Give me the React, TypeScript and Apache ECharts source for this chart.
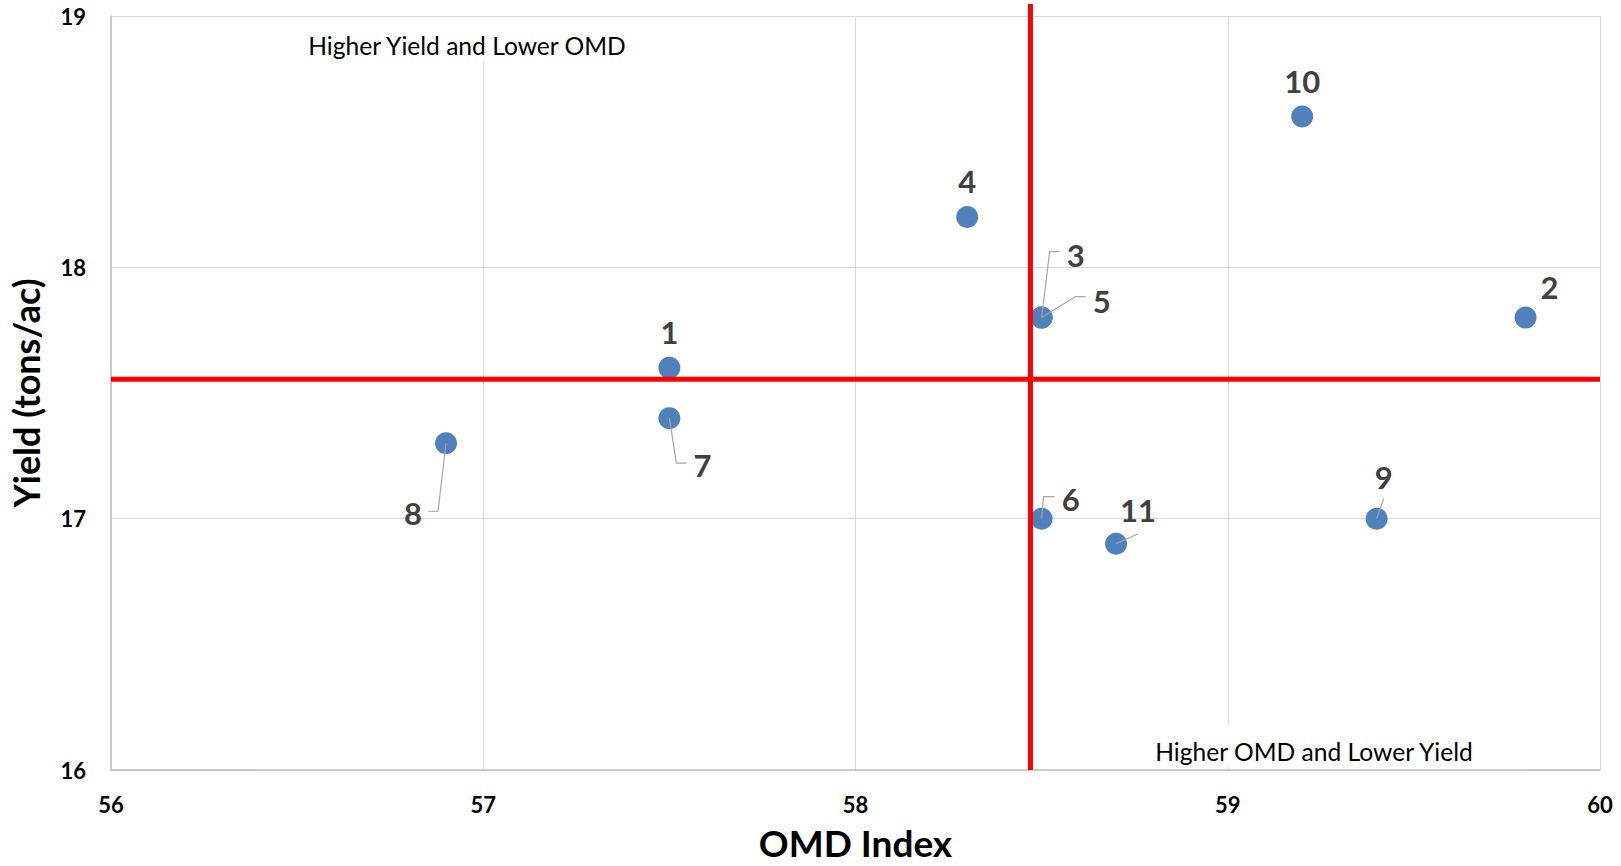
import React, { useEffect, useRef } from "react";
import * as echarts from "echarts";

// ---- Data ----
const POINT_LABELS = ["1", "2", "3", "4", "5", "6", "7", "8", "9", "10", "11"];
const OMD_INDEX = [57.5, 59.8, 58.5, 58.3, 58.5, 58.5, 57.5, 56.9, 59.4, 59.2, 58.7];
const YIELD = [17.6, 17.8, 17.8, 18.2, 17.8, 17.0, 17.4, 17.3, 17.0, 18.6, 16.9];
const OMD_REFERENCE = 58.47;
const YIELD_REFERENCE = 17.555;
const X_MIN = 56;
const X_MAX = 60;
const Y_MIN = 16;
const Y_MAX = 19;
const QUADRANT_NOTES = ["Higher Yield and Lower OMD", "Higher OMD and Lower Yield"];

// ---- Label layout (pixel offsets of each label from its point) ----
const LABEL_OFFSET: [number, number][] = [
  [0, -36], [24, -31], [34, -63], [0, -36], [60, -17], [29, -20],
  [33, 47], [-33, 70], [7, -42], [0, -36], [22, -34],
];
// leader line points (pixel offsets from point centre), null = none
const LEADER: ([number, number][] | null)[] = [
  null,
  null,
  [[0, 0], [8, -66], [18, -66]],
  null,
  [[0, 0], [34, -21], [44, -21]],
  [[0, 0], [2, -22], [13, -22]],
  [[0, 0], [7, 45], [17, 45]],
  [[0, 0], [-8, 68], [-18, 68]],
  [[0, 0], [7, -20]],
  null,
  [[0, 0], [22, -10]],
];

const FONT = "Lato, 'Open Sans', sans-serif";

export default function App() {
  const ref = useRef<HTMLDivElement>(null);

  useEffect(() => {
    document.body.style.margin = "0";
    if (!ref.current) return;
    const chart = echarts.init(ref.current, null, { renderer: "svg" });
    const points = OMD_INDEX.map((x, i) => [x, YIELD[i]]);

    const option: any = {
      animation: false,
      backgroundColor: "#ffffff",
      grid: { left: 111, right: 21, top: 16, bottom: 94 },
      xAxis: {
        type: "value",
        min: X_MIN,
        max: X_MAX,
        interval: 1,
        name: "OMD Index",
        nameLocation: "middle",
        nameGap: 54,
        nameTextStyle: { fontFamily: FONT, fontWeight: "bold", fontSize: 37, color: "#000" },
        axisLine: { show: true, lineStyle: { color: "#bfbfbf", width: 1.5 } },
        axisTick: { show: false },
        axisLabel: { fontFamily: FONT, fontWeight: "bold", fontSize: 22, color: "#000", margin: 23 },
        splitLine: { show: true, lineStyle: { color: "#d9d9d9", width: 1 } },
      },
      yAxis: {
        type: "value",
        min: Y_MIN,
        max: Y_MAX,
        interval: 1,
        name: "Yield (tons/ac)",
        nameLocation: "middle",
        nameGap: 67,
        nameTextStyle: { fontFamily: FONT, fontWeight: "bold", fontSize: 36, color: "#000" },
        axisLine: { show: true, lineStyle: { color: "#bfbfbf", width: 1.5 } },
        axisTick: { show: false },
        axisLabel: { fontFamily: FONT, fontWeight: "bold", fontSize: 22, color: "#000", margin: 25 },
        splitLine: { show: true, lineStyle: { color: "#d9d9d9", width: 1 } },
      },
      graphic: [
        {
          type: "text",
          z: 50,
          x: 467,
          y: 17,
          style: {
            text: QUADRANT_NOTES[0],
            font: `24.6px ${FONT}`,
            fill: "#000",
            align: "center",
            verticalAlign: "top",
            lineHeight: 28,
            backgroundColor: "#fff",
            padding: [14, 8, 2, 8],
          },
        },
        {
          type: "text",
          z: 50,
          x: 1314,
          y: 725,
          style: {
            text: QUADRANT_NOTES[1],
            font: `24.6px ${FONT}`,
            fill: "#000",
            align: "center",
            verticalAlign: "top",
            lineHeight: 28,
            backgroundColor: "#fff",
            padding: [12, 8, 2, 8],
          },
        },
      ],
      series: [
        {
          type: "scatter",
          z: 2,
          data: points,
          symbolSize: 22,
          itemStyle: { color: "#4f81bd", opacity: 1 },
          label: { show: false },
        },
        {
          type: "custom",
          z: 3,
          data: [[OMD_REFERENCE, YIELD_REFERENCE]],
          renderItem: (params: any, api: any) => {
            const p = api.coord([api.value(0), api.value(1)]);
            const cs = params.coordSys;
            return {
              type: "group",
              children: [
                {
                  type: "line",
                  shape: { x1: cs.x, y1: p[1], x2: cs.x + cs.width, y2: p[1] },
                  style: { stroke: "#ff0000", lineWidth: 5 },
                },
                {
                  type: "line",
                  shape: { x1: p[0], y1: cs.y + cs.height, x2: p[0], y2: cs.y - 12 },
                  style: { stroke: "#ff0000", lineWidth: 5 },
                },
              ],
            };
          },
        },
        {
          type: "custom",
          z: 4,
          data: points,
          renderItem: (params: any, api: any) => {
            const i = params.dataIndex;
            const p = api.coord([api.value(0), api.value(1)]);
            const off = LABEL_OFFSET[i];
            const children: any[] = [];
            const leader = LEADER[i];
            if (leader) {
              children.push({
                type: "polyline",
                shape: { points: leader.map((q) => [p[0] + q[0], p[1] + q[1]]) },
                style: { stroke: "#a6a6a6", lineWidth: 1.2, fill: null },
              });
            }
            children.push({
              type: "text",
              x: p[0] + off[0],
              y: p[1] + off[1],
              style: {
                text: POINT_LABELS[i],
                font: `bold 31px ${FONT}`,
                fill: "#404040",
                align: "center",
                verticalAlign: "middle",
              },
            });
            return { type: "group", children };
          },
        },
      ],
    };

    chart.setOption(option);
    return () => chart.dispose();
  }, []);

  return <div ref={ref} style={{ width: 1621, height: 866 }} />;
}
